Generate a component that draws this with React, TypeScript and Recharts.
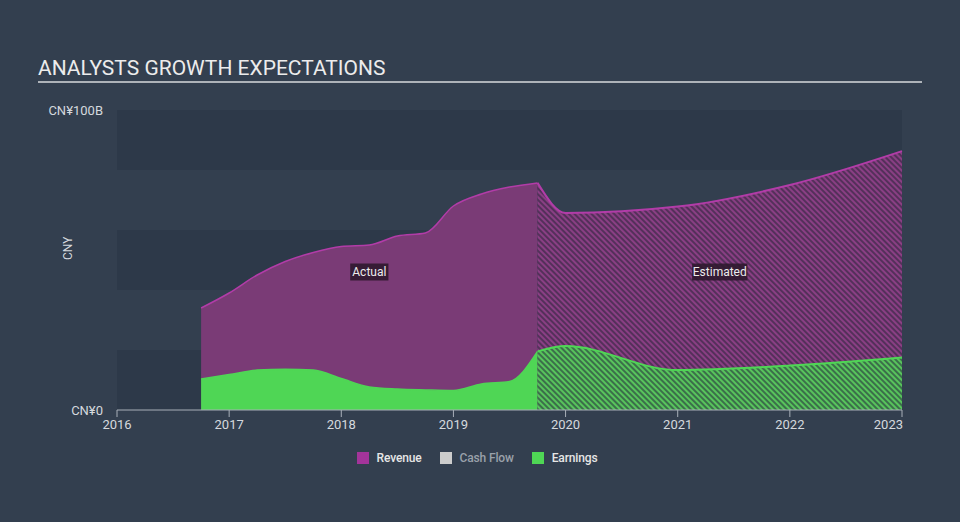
import { ComposedChart, Area, XAxis, YAxis, ReferenceArea, ReferenceDot, Legend } from 'recharts';

// fiscal periods (decimal years) — actual quarters then analyst estimates
const periods = [
  2016.75, 2017, 2017.25, 2017.5, 2017.75, 2018, 2018.25, 2018.5, 2018.75,
  2019, 2019.25, 2019.5, 2019.75, 2020, 2021, 2022, 2023,
];
// CNY billions
const revenueActual = [34, 39, 45, 49.5, 52.5, 54.5, 55, 58, 59, 68, 72, 74.3, 75.7, null, null, null, null];
const revenueEstimate = [null, null, null, null, null, null, null, null, null, null, null, null, 75.7, 65.7, 67.8, 75, 86.3];
const earningsActual = [10.3, 11.8, 13.3, 13.6, 13.3, 10.5, 7.7, 7.0, 6.7, 6.5, 8.7, 9.5, 19.5, null, null, null, null];
const earningsEstimate = [null, null, null, null, null, null, null, null, null, null, null, null, 19.5, 21.3, 13.3, 14.8, 17.5];

const yearTicks = [2016, 2017, 2018, 2019, 2020, 2021, 2022, 2023];
const valueTicks = [0, 100];
const bands = [[0, 20], [40, 60], [80, 100]];

const legendItems = [
  { name: 'Revenue', color: '#a3349a', text: '#e6e6e6' },
  { name: 'Cash Flow', color: '#cccccc', text: '#9aa1aa' },
  { name: 'Earnings', color: '#4fd655', text: '#e6e6e6' },
];

const data = periods.map((x, i) => ({
  x,
  revA: revenueActual[i],
  revE: revenueEstimate[i],
  earnA: earningsActual[i],
  earnE: earningsEstimate[i],
}));

const FONT = 'Roboto, "Open Sans", sans-serif';

const XTick = (props: any) => {
  const { x, y, payload } = props;
  const last = payload.value === yearTicks[yearTicks.length - 1];
  return (
    <text x={last ? x + 1 : x} y={y} dy="0.71em" textAnchor={last ? 'end' : 'middle'} fill="#d5d9de" fontSize={13} fontFamily={FONT}>
      {payload.value}
    </text>
  );
};

const YTick = (props: any) => {
  const { x, y, payload } = props;
  return (
    <text x={x} y={y} dy="0.355em" textAnchor="end" fill="#d5d9de" fontSize={13} fontFamily={FONT}>
      {payload.value === 0 ? 'CN¥0' : `CN¥${payload.value}B`}
    </text>
  );
};

const PhaseLabel = (props: any) => {
  const { viewBox, value } = props;
  const cx = viewBox.x + (viewBox.width || 0) / 2;
  const cy = viewBox.y + (viewBox.height || 0) / 2;
  const w = value.length * 5.7 + 4;
  return (
    <g>
      <rect x={cx - w / 2} y={cy - 8.5} width={w} height={17} fill="#2f1a2f" fillOpacity={0.9} />
      <text x={cx} y={cy} dy="0.355em" textAnchor="middle" fill="#ececec" fontSize={12} fontFamily={FONT}>
        {value}
      </text>
    </g>
  );
};

const LegendContent = () => (
  <div style={{ display: 'flex', justifyContent: 'center', fontFamily: FONT, fontSize: 12, fontWeight: 500, paddingRight: 6 }}>
    {legendItems.map((item) => (
      <div key={item.name} style={{ display: 'flex', alignItems: 'center', margin: '0 9px' }}>
        <span style={{ width: 12, height: 12, background: item.color, marginRight: 8, display: 'inline-block' }} />
        <span style={{ color: item.text, letterSpacing: -0.15 }}>{item.name}</span>
      </div>
    ))}
  </div>
);

export default function App() {
  return (
    <div style={{ position: 'absolute', left: 0, top: 0, width: 960, height: 522, background: '#333f4f', overflow: 'hidden' }}>
      <div style={{ position: 'absolute', left: 38, top: 56, fontFamily: FONT, fontSize: 21, color: '#ececec' }}>
        ANALYSTS GROWTH EXPECTATIONS
      </div>
      <div style={{ position: 'absolute', left: 38, top: 81, width: 884, height: 2, background: '#aeb3b9' }} />
      <div style={{ position: 'absolute', left: 0, top: 0 }}>
        <ComposedChart width={960} height={522} data={data} margin={{ top: 110, right: 58, bottom: 82, left: 0 }}>
          <defs>
            <pattern id="hatchRevenue" width="4" height="4" patternUnits="userSpaceOnUse" patternTransform="rotate(-45)">
              <rect width="4" height="4" fill="#54305a" />
              <rect width="2" height="4" fill="#8a3f84" />
            </pattern>
            <pattern id="hatchEarnings" width="4" height="4" patternUnits="userSpaceOnUse" patternTransform="rotate(-45)">
              <rect width="4" height="4" fill="#3b6f4a" />
              <rect width="2" height="4" fill="#58c45c" />
            </pattern>
          </defs>
          {bands.map(([y1, y2]) => (
            <ReferenceArea key={y1} x1={2016} x2={2023} y1={y1} y2={y2} fill="#2d3949" fillOpacity={1} stroke="none" ifOverflow="visible" />
          ))}
          <XAxis
            dataKey="x"
            type="number"
            domain={[2016, 2023]}
            ticks={yearTicks}
            allowDecimals={false}
            tick={<XTick />}
            tickSize={7}
            tickMargin={3}
            stroke="#a9b0b9"
            tickLine={{ stroke: '#a9b0b9' }}
          />
          <YAxis
            type="number"
            domain={[0, 100]}
            ticks={valueTicks}
            width={117}
            tick={<YTick />}
            tickSize={0}
            tickMargin={14}
            axisLine={false}
            tickLine={false}
            label={{ value: 'CNY', angle: -90, position: 'insideLeft', offset: 68, fill: '#d5d9de', fontSize: 12, fontFamily: FONT }}
          />
          <Area dataKey="revA" type="monotone" stroke="#b23ca8" strokeWidth={1.5} fill="#7a3b76" fillOpacity={1} isAnimationActive={false} dot={false} activeDot={false} />
          <Area dataKey="revE" type="monotone" stroke="#b23ca8" strokeWidth={2} fill="url(#hatchRevenue)" fillOpacity={1} isAnimationActive={false} dot={false} activeDot={false} />
          <Area dataKey="earnA" type="monotone" stroke="#4fd655" strokeWidth={1.5} fill="#4fd655" fillOpacity={1} isAnimationActive={false} dot={false} activeDot={false} />
          <Area dataKey="earnE" type="monotone" stroke="#4fd655" strokeWidth={2} fill="url(#hatchEarnings)" fillOpacity={1} isAnimationActive={false} dot={false} activeDot={false} />
          <ReferenceDot x={2018.25} y={46} r={1} fill="none" stroke="none" label={<PhaseLabel value="Actual" />} />
          <ReferenceDot x={2021.375} y={46} r={1} fill="none" stroke="none" label={<PhaseLabel value="Estimated" />} />
          <Legend verticalAlign="middle" layout="horizontal" content={<LegendContent />} wrapperStyle={{ top: 451, left: 0, width: 960 }} />
        </ComposedChart>
      </div>
    </div>
  );
}
